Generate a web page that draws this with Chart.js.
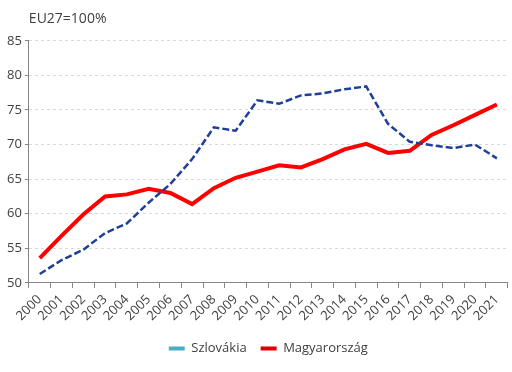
<!DOCTYPE html>
<html>
<head>
<meta charset="utf-8">
<script src="https://cdn.jsdelivr.net/npm/chart.js@4/dist/chart.umd.min.js"></script>
<style>
  html, body { margin: 0; padding: 0; background: #fff; }
  #wrap { width: 512px; height: 372px; }
</style>
</head>
<body>
<div id="wrap"><canvas id="myChart"></canvas></div>
<script>
// adatok (EU27=100%)
const years = ['2000', '2001', '2002', '2003', '2004', '2005', '2006', '2007', '2008', '2009', '2010',
  '2011', '2012', '2013', '2014', '2015', '2016', '2017', '2018', '2019', '2020', '2021'];
const slovakia = [51.3, 53.3, 54.8, 57.2, 58.6, 61.6, 64.3, 67.9, 72.5, 72.0, 76.4,
  75.9, 77.1, 77.4, 78.0, 78.4, 73.0, 70.4, 69.9, 69.5, 70.0, 68.0];
const hungary = [53.6, 56.8, 59.9, 62.5, 62.8, 63.6, 63.0, 61.4, 63.7, 65.2, 66.1,
  67.0, 66.7, 67.9, 69.3, 70.1, 68.8, 69.1, 71.4, 72.8, 74.3, 75.8];
const yTicks = [50, 55, 60, 65, 70, 75, 80, 85];

const FONT = "'Open Sans', 'Noto Sans', sans-serif";
const ctx = document.querySelector('#myChart');

new Chart(ctx, {
  type: 'line',
  data: {
    labels: years,
    datasets: [
      {
        label: 'Szlovákia',
        data: slovakia,
        borderColor: '#1f3f99',
        borderWidth: 2.5,
        borderDash: [7, 3],
        pointRadius: 0,
        tension: 0,
        legendColor: '#4bacc6',
      },
      {
        label: 'Magyarország',
        data: hungary,
        borderColor: '#ff0000',
        borderWidth: 4,
        pointRadius: 0,
        tension: 0,
        legendColor: '#e00000',
      },
    ],
  },
  options: {
    responsive: true,
    maintainAspectRatio: false,
    animation: false,
    layout: { padding: { left: 4, right: 0, top: 0, bottom: 7 } },
    plugins: {
      title: {
        display: true,
        text: 'EU27=100%',
        align: 'start',
        fullSize: false,
        color: '#404040',
        font: { family: FONT, size: 14, weight: 'normal' },
        padding: { top: 11, bottom: 13 },
      },
      legend: {
        position: 'bottom',
        fullSize: false,
        labels: {
          color: '#404040',
          font: { family: FONT, size: 13 },
          boxWidth: 16,
          boxHeight: 4,
          padding: 14,
          generateLabels: function (chart) {
            return chart.data.datasets.map((ds, i) => ({
              text: ds.label,
              fillStyle: ds.legendColor,
              strokeStyle: ds.legendColor,
              lineWidth: 0,
              fontColor: '#404040',
              datasetIndex: i,
            }));
          },
        },
      },
      tooltip: { enabled: false },
    },
    scales: {
      x: {
        offset: true,
        grid: {
          offset: true,
          drawOnChartArea: false,
          drawTicks: true,
          tickLength: 5,
          tickColor: '#868686',
        },
        border: { color: '#868686', width: 1 },
        ticks: {
          color: '#404040',
          font: { family: FONT, size: 13 },
          minRotation: 45,
          maxRotation: 45,
          autoSkip: false,
          padding: 4,
        },
      },
      y: {
        min: 50,
        max: 85,
        afterBuildTicks: function (axis) {
          axis.ticks = yTicks.map((v) => ({ value: v }));
        },
        grid: {
          color: '#d9d9d9',
          tickLength: 4,
          tickColor: '#868686',
          tickBorderDash: [],
        },
        border: { color: '#868686', width: 1, dash: [3, 3] },
        ticks: {
          color: '#404040',
          font: { family: FONT, size: 13 },
          padding: 3,
        },
      },
    },
  },
});
</script>
</body>
</html>
